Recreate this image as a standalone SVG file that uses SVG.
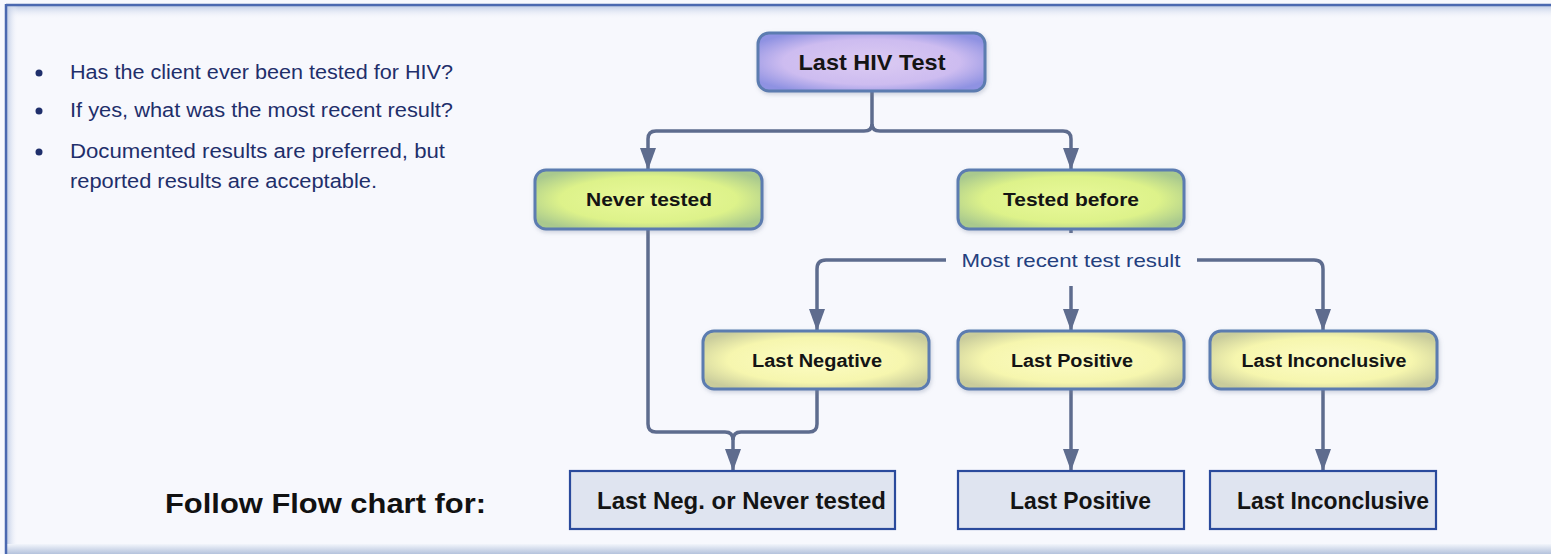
<svg xmlns="http://www.w3.org/2000/svg" width="1551" height="554" viewBox="0 0 1551 554">
  <defs>
    <style>
      .bullet { font-family: "Liberation Sans", Arial, sans-serif; font-size: 20px; fill: #1f2f6b; }
      .node { stroke: #5b7cb0; stroke-width: 3; filter: url(#shadow); }
      .ntext { font-family: "Liberation Sans", Arial, sans-serif; font-weight: bold; fill: #141414; text-anchor: middle; }
      .out { fill: #dfe4f0; stroke: #2a4a9c; stroke-width: 2.2; }
      .otext { font-family: "Liberation Sans", Arial, sans-serif; font-size: 23px; font-weight: bold; fill: #141414; }
      .conn { fill: none; stroke: #5e6c8e; stroke-width: 3.5; }
      .lbl { font-family: "Liberation Sans", Arial, sans-serif; font-size: 19px; fill: #24407e; text-anchor: middle; }
    </style>
    <radialGradient id="gPurple" cx="0.5" cy="0.5" r="0.6">
      <stop offset="0" stop-color="#dccbf2"/>
      <stop offset="0.65" stop-color="#cdbcf0"/>
      <stop offset="1" stop-color="#8f92e2"/>
    </radialGradient>
    <radialGradient id="gGreen" cx="0.5" cy="0.5" r="0.6">
      <stop offset="0" stop-color="#e9f99a"/>
      <stop offset="0.65" stop-color="#ddf28a"/>
      <stop offset="1" stop-color="#a9c98e"/>
    </radialGradient>
    <radialGradient id="gYellow" cx="0.5" cy="0.5" r="0.6">
      <stop offset="0" stop-color="#fcfcc4"/>
      <stop offset="0.65" stop-color="#f6f6ae"/>
      <stop offset="1" stop-color="#c9cc9c"/>
    </radialGradient>
    <linearGradient id="gTop" x1="0" y1="0" x2="0" y2="1">
      <stop offset="0" stop-color="#b8c6e2"/>
      <stop offset="1" stop-color="#f7f8fd" stop-opacity="0"/>
    </linearGradient>
    <linearGradient id="gLeft" x1="0" y1="0" x2="1" y2="0">
      <stop offset="0" stop-color="#b8c6e2"/>
      <stop offset="1" stop-color="#f7f8fd" stop-opacity="0"/>
    </linearGradient>
    <linearGradient id="gBottom" x1="0" y1="0" x2="0" y2="1">
      <stop offset="0" stop-color="#f2f5fb"/>
      <stop offset="1" stop-color="#b4c2dc"/>
    </linearGradient>
    <filter id="shadow" x="-10%" y="-20%" width="120%" height="150%">
      <feDropShadow dx="1" dy="2" stdDeviation="2" flood-color="#7a86a0" flood-opacity="0.35"/>
    </filter>
    <marker id="arrow" markerUnits="userSpaceOnUse" markerWidth="24" markerHeight="18" refX="22" refY="9" orient="auto" viewBox="0 0 24 18">
      <path d="M0,1 L22,9 L0,17 Z" fill="#5e6c8e"/>
    </marker>
  </defs>

  <!-- background and frame -->
  <rect x="0" y="0" width="1551" height="554" fill="#f7f8fd"/>
  <rect x="6" y="5" width="1545" height="14" fill="url(#gTop)"/>
  <rect x="6" y="5" width="12" height="540" fill="url(#gLeft)"/>
  <rect x="6" y="544" width="1545" height="10" fill="url(#gBottom)"/>
  <line x1="6" y1="5" x2="1551" y2="5" stroke="#4a68b0" stroke-width="2.5"/>
  <line x1="6" y1="4" x2="6" y2="554" stroke="#4a68b0" stroke-width="2.5"/>

  <!-- bullet list -->
  <g id="bullets">
    <circle cx="39" cy="73" r="3.5" fill="#1f2f6b"/>
    <circle cx="39" cy="111" r="3.5" fill="#1f2f6b"/>
    <circle cx="39" cy="152" r="3.5" fill="#1f2f6b"/>
    <text class="bullet" x="70" y="79" textLength="383" lengthAdjust="spacingAndGlyphs">Has the client ever been tested for HIV?</text>
    <text class="bullet" x="70" y="117" textLength="383" lengthAdjust="spacingAndGlyphs">If yes, what was the most recent result?</text>
    <text class="bullet" x="70" y="158" textLength="375" lengthAdjust="spacingAndGlyphs">Documented results are preferred, but</text>
    <text class="bullet" x="70" y="188" textLength="307" lengthAdjust="spacingAndGlyphs">reported results are acceptable.</text>
  </g>

  <!-- connectors -->
  <g id="connectors">
    <path class="conn" d="M872,91 V124 Q872,131 864,131 H656 Q648,131 648,139 V170" marker-end="url(#arrow)"/>
    <path class="conn" d="M872,124 Q872,131 880,131 H1063 Q1071,131 1071,139 V170" marker-end="url(#arrow)"/>
    <path class="conn" d="M1071,229 V233"/>
    <path class="conn" d="M946,260 H826 Q817,260 817,269 V331" marker-end="url(#arrow)"/>
    <path class="conn" d="M1197,260 H1314 Q1323,260 1323,269 V331" marker-end="url(#arrow)"/>
    <path class="conn" d="M1071,286 V331" marker-end="url(#arrow)"/>
    <path class="conn" d="M648,229 V424 Q648,432 656,432 H725 Q733,432 733,440 V471" marker-end="url(#arrow)"/>
    <path class="conn" d="M817,389 V424 Q817,432 809,432 H741 Q733,432 733,440"/>
    <path class="conn" d="M1071,389 V471" marker-end="url(#arrow)"/>
    <path class="conn" d="M1323,389 V471" marker-end="url(#arrow)"/>
  </g>

  <text class="lbl" x="1071" y="267" textLength="219" lengthAdjust="spacingAndGlyphs">Most recent test result</text>

  <g id="node-last-hiv-test">
    <rect class="node" x="758" y="33" width="227" height="58" rx="11" fill="url(#gPurple)" stroke="#6a80cc"/>
    <text class="ntext" x="872" y="70" font-size="22" textLength="147" lengthAdjust="spacingAndGlyphs">Last HIV Test</text>
  </g>

  <g id="node-never-tested">
    <rect class="node" x="535" y="170" width="227" height="59" rx="11" fill="url(#gGreen)"/>
    <text class="ntext" x="649" y="206" font-size="19" textLength="126" lengthAdjust="spacingAndGlyphs">Never tested</text>
  </g>

  <g id="node-tested-before">
    <rect class="node" x="958" y="170" width="226" height="59" rx="11" fill="url(#gGreen)"/>
    <text class="ntext" x="1071" y="206" font-size="19" textLength="136" lengthAdjust="spacingAndGlyphs">Tested before</text>
  </g>

  <g id="node-last-negative">
    <rect class="node" x="703" y="331" width="226" height="58" rx="11" fill="url(#gYellow)"/>
    <text class="ntext" x="817" y="367" font-size="18" textLength="130" lengthAdjust="spacingAndGlyphs">Last Negative</text>
  </g>

  <g id="node-last-positive">
    <rect class="node" x="958" y="331" width="226" height="58" rx="11" fill="url(#gYellow)"/>
    <text class="ntext" x="1072" y="367" font-size="18" textLength="122" lengthAdjust="spacingAndGlyphs">Last Positive</text>
  </g>

  <g id="node-last-inconclusive">
    <rect class="node" x="1210" y="331" width="227" height="58" rx="11" fill="url(#gYellow)"/>
    <text class="ntext" x="1324" y="367" font-size="18" textLength="165" lengthAdjust="spacingAndGlyphs">Last Inconclusive</text>
  </g>

  <text id="follow-label" x="165" y="513" font-family="'Liberation Sans', Arial, sans-serif" font-size="28" font-weight="bold" fill="#111" textLength="321" lengthAdjust="spacingAndGlyphs">Follow Flow chart for:</text>

  <g id="out-neg-never">
    <rect class="out" x="570" y="471" width="325" height="58"/>
    <text class="otext" x="597" y="509" textLength="289" lengthAdjust="spacingAndGlyphs">Last Neg. or Never tested</text>
  </g>

  <g id="out-positive">
    <rect class="out" x="958" y="471" width="226" height="58"/>
    <text class="otext" x="1010" y="509" textLength="141" lengthAdjust="spacingAndGlyphs">Last Positive</text>
  </g>

  <g id="out-inconclusive">
    <rect class="out" x="1210" y="471" width="226" height="58"/>
    <text class="otext" x="1237" y="509" textLength="192" lengthAdjust="spacingAndGlyphs">Last Inconclusive</text>
  </g>
</svg>
